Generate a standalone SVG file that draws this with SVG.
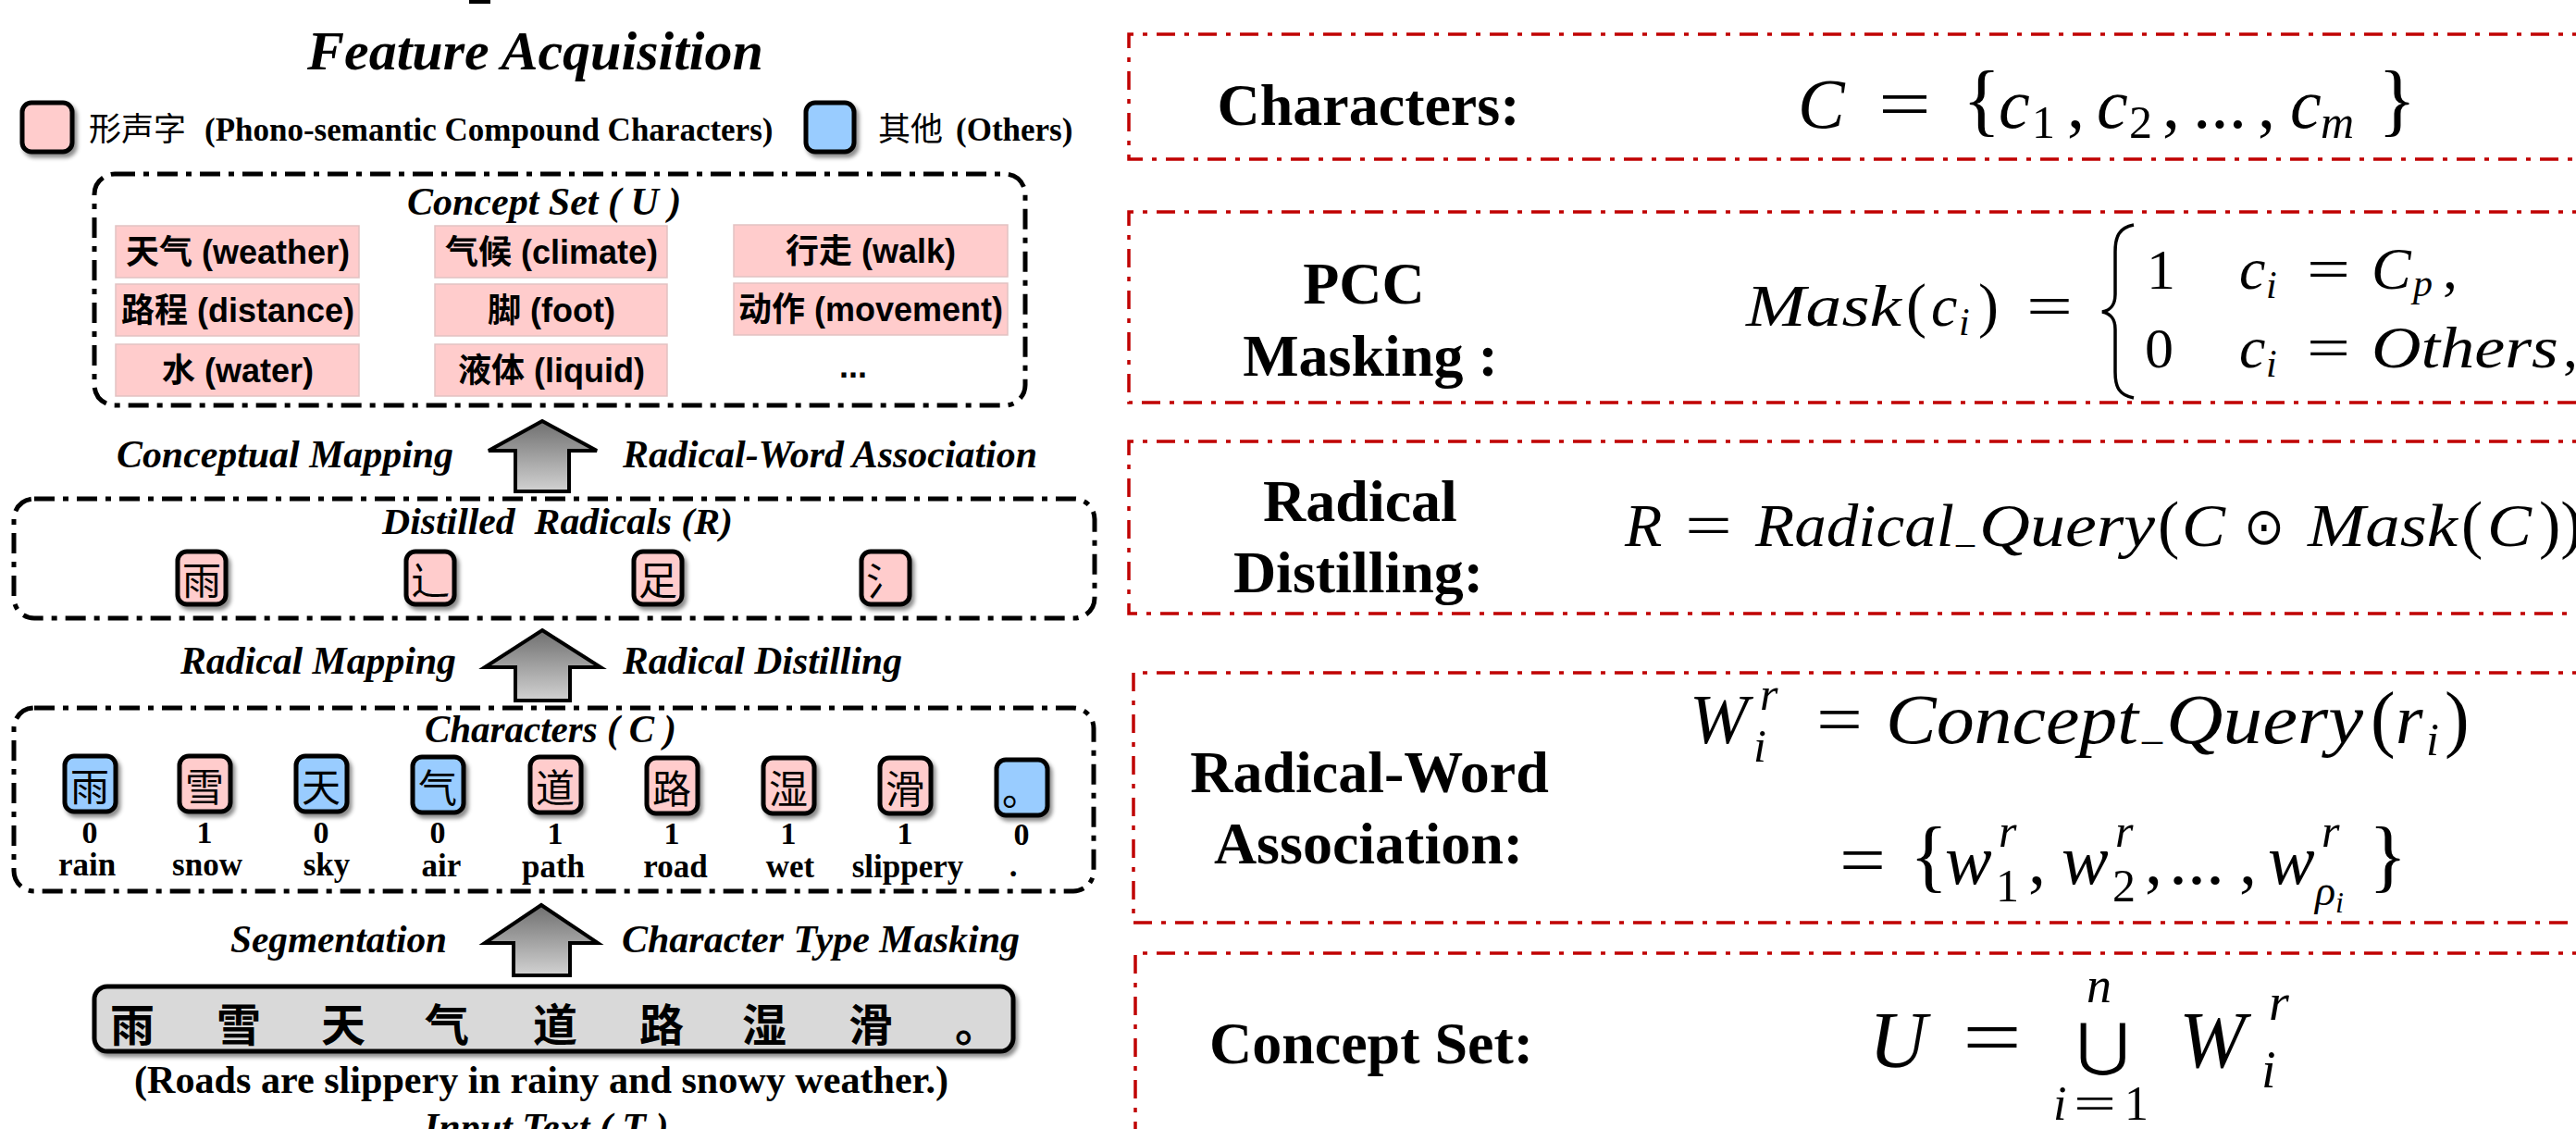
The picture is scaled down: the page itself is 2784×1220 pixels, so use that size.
<svg xmlns="http://www.w3.org/2000/svg" width="2784" height="1220" viewBox="0 0 2784 1220">
<defs>
<style>
.tbi{font-family:"Liberation Serif","Noto Sans CJK SC",serif;font-weight:bold;font-style:italic;fill:#000}
.tb{font-family:"Liberation Serif","Noto Sans CJK SC",serif;font-weight:bold;fill:#000}
.cjk{font-family:"Noto Sans CJK SC",sans-serif;font-weight:normal;fill:#000}
.sans{font-family:"Liberation Sans","Noto Sans CJK SC",sans-serif;font-weight:bold;fill:#000;text-anchor:middle}
.m{font-family:"Liberation Serif",serif;font-style:italic;fill:#000}
.mu{font-family:"Liberation Serif",serif;fill:#000}
.sym{font-family:"DejaVu Sans",sans-serif;fill:#000}
.dash{fill:none;stroke:#000;stroke-width:5;stroke-dasharray:22 9 6 9}
.red{fill:none;stroke:#C00000;stroke-width:3.5;stroke-dasharray:20 10 5 10}
.pk{fill:#FFCCCC;stroke:#000;stroke-width:5}
.bl{fill:#99CCFF;stroke:#000;stroke-width:5}
.item{fill:#FFCCCC;stroke:#E2C2C2;stroke-width:1.5}
.arrow{fill:url(#ag);stroke:#000;stroke-width:4;stroke-linejoin:miter}
.ch{font-family:"Noto Sans CJK SC",sans-serif;font-size:42px;text-anchor:middle;dominant-baseline:central;fill:#000}
.num{font-family:"Liberation Serif",serif;font-weight:bold;font-size:34px;text-anchor:middle}
.word{font-family:"Liberation Serif",serif;font-weight:bold;font-size:35px;text-anchor:middle}
.rl{font-family:"Liberation Serif",serif;font-weight:bold;font-size:64px;text-anchor:middle}
</style>
<linearGradient id="ag" x1="0" y1="0" x2="0" y2="1">
<stop offset="0" stop-color="#6f6f6f"/>
<stop offset="1" stop-color="#d2d2d2"/>
</linearGradient>
<filter id="sh" x="-20%" y="-20%" width="150%" height="150%">
<feDropShadow dx="3" dy="4" stdDeviation="2" flood-color="#000" flood-opacity="0.45"/>
</filter>
</defs>
<rect width="2784" height="1220" fill="#fff"/>

<!-- cut-off fragment at top -->
<rect x="507" y="0" width="23" height="4" fill="#000"/>

<!-- LEFT PANEL -->
<text class="tbi" x="332" y="75" font-size="60">Feature Acquisition</text>

<g id="legend">
<rect class="pk" x="24" y="111" width="54" height="53" rx="10" filter="url(#sh)"/>
<text class="tb" x="96" y="152" font-size="35"><tspan class="cjk">形声字</tspan><tspan x="221">(Phono-semantic Compound Characters)</tspan></text>
<rect class="bl" x="871" y="111" width="52" height="53" rx="10" filter="url(#sh)"/>
<text class="tb" x="949" y="152" font-size="35"><tspan class="cjk">其他</tspan><tspan x="1033">(Others)</tspan></text>
</g>

<g id="concept-set">
<rect class="dash" x="102" y="188" width="1006" height="250" rx="22"/>
<text class="tbi" x="440" y="232" font-size="42" xml:space="preserve">Concept Set ( U )</text>
<rect class="item" x="125" y="244" width="263" height="56"/>
<rect class="item" x="470" y="244" width="251" height="56"/>
<rect class="item" x="793" y="243" width="296" height="56"/>
<rect class="item" x="125" y="307" width="263" height="56"/>
<rect class="item" x="470" y="307" width="251" height="56"/>
<rect class="item" x="793" y="306" width="296" height="56"/>
<rect class="item" x="125" y="372" width="263" height="56"/>
<rect class="item" x="470" y="372" width="251" height="56"/>
<text class="sans" font-size="36" x="257" y="285">天气 (weather)</text>
<text class="sans" font-size="36" x="596" y="285">气候 (climate)</text>
<text class="sans" font-size="36" x="941" y="284">行走 (walk)</text>
<text class="sans" font-size="36" x="257" y="348">路程 (distance)</text>
<text class="sans" font-size="36" x="596" y="348">脚 (foot)</text>
<text class="sans" font-size="36" x="941" y="347">动作 (movement)</text>
<text class="sans" font-size="36" x="257" y="413">水 (water)</text>
<text class="sans" font-size="36" x="596" y="413">液体 (liquid)</text>
<text class="sans" font-size="36" x="922" y="408">...</text>
</g>

<g id="connectors">
<path class="arrow" d="M586,455 L645,487 L615,487 L615,531 L557,531 L557,487 L528,487 Z"/>
<path class="arrow" d="M586,681 L649,721 L616,721 L616,757 L557,757 L557,721 L524,721 Z"/>
<path class="arrow" d="M585,978 L646,1019 L616,1019 L616,1054 L555,1054 L555,1019 L524,1019 Z"/>
<text class="tbi" x="126" y="505" font-size="42" textLength="364" lengthAdjust="spacingAndGlyphs">Conceptual Mapping</text>
<text class="tbi" x="673" y="505" font-size="42" textLength="448" lengthAdjust="spacingAndGlyphs">Radical-Word Association</text>
<text class="tbi" x="195" y="728" font-size="42" textLength="298" lengthAdjust="spacingAndGlyphs">Radical Mapping</text>
<text class="tbi" x="673" y="728" font-size="42" textLength="302" lengthAdjust="spacingAndGlyphs">Radical Distilling</text>
<text class="tbi" x="249" y="1029" font-size="42" textLength="234" lengthAdjust="spacingAndGlyphs">Segmentation</text>
<text class="tbi" x="672" y="1029" font-size="42" textLength="430" lengthAdjust="spacingAndGlyphs">Character Type Masking</text>
</g>

<g id="radicals">
<rect class="dash" x="15" y="539" width="1168" height="129" rx="22"/>
<text class="tbi" x="413" y="577" font-size="40" textLength="379" lengthAdjust="spacingAndGlyphs" xml:space="preserve">Distilled  Radicals (R)</text>
<rect class="pk" x="192" y="596" width="52" height="57" rx="10" filter="url(#sh)"/>
<rect class="pk" x="439" y="596" width="52" height="57" rx="10" filter="url(#sh)"/>
<rect class="pk" x="685" y="596" width="52" height="57" rx="10" filter="url(#sh)"/>
<rect class="pk" x="931" y="596" width="52" height="57" rx="10" filter="url(#sh)"/>
<text class="ch" font-size="40" x="218" y="624">雨</text>
<text class="ch" font-size="40" x="465" y="624">辶</text>
<text class="ch" font-size="40" x="711" y="624">足</text>
<text class="ch" font-size="40" x="957" y="624">氵</text>
</g>

<g id="characters">
<rect class="dash" x="15" y="765" width="1167" height="198" rx="22"/>
<text class="tbi" x="459" y="802" font-size="42" textLength="272" lengthAdjust="spacingAndGlyphs" xml:space="preserve">Characters ( C )</text>
<rect class="bl" x="70" y="817" width="55" height="60" rx="10" filter="url(#sh)"/>
<rect class="pk" x="194" y="817" width="55" height="60" rx="10" filter="url(#sh)"/>
<rect class="bl" x="320" y="817" width="55" height="60" rx="10" filter="url(#sh)"/>
<rect class="bl" x="446" y="818" width="55" height="60" rx="10" filter="url(#sh)"/>
<rect class="pk" x="573" y="818" width="55" height="60" rx="10" filter="url(#sh)"/>
<rect class="pk" x="699" y="819" width="55" height="60" rx="10" filter="url(#sh)"/>
<rect class="pk" x="825" y="819" width="55" height="60" rx="10" filter="url(#sh)"/>
<rect class="pk" x="951" y="819" width="55" height="60" rx="10" filter="url(#sh)"/>
<rect class="bl" x="1077" y="821" width="55" height="60" rx="10" filter="url(#sh)"/>
<text class="ch" x="97" y="847">雨</text>
<text class="ch" x="221" y="847">雪</text>
<text class="ch" x="347" y="847">天</text>
<text class="ch" x="473" y="848">气</text>
<text class="ch" x="600" y="848">道</text>
<text class="ch" x="726" y="849">路</text>
<text class="ch" x="852" y="849">湿</text>
<text class="ch" x="978" y="849">滑</text>
<text class="ch" x="1104" y="851">。</text>
<text class="num" x="97" y="911">0</text>
<text class="num" x="221" y="911">1</text>
<text class="num" x="347" y="911">0</text>
<text class="num" x="473" y="911">0</text>
<text class="num" x="600" y="912">1</text>
<text class="num" x="726" y="912">1</text>
<text class="num" x="852" y="912">1</text>
<text class="num" x="978" y="912">1</text>
<text class="num" x="1104" y="913">0</text>
<text class="word" x="94" y="946">rain</text>
<text class="word" x="224" y="946">snow</text>
<text class="word" x="353" y="946">sky</text>
<text class="word" x="477" y="947">air</text>
<text class="word" x="598" y="948">path</text>
<text class="word" x="730" y="948">road</text>
<text class="word" x="854" y="948">wet</text>
<text class="word" x="981" y="948">slippery</text>
<text class="word" x="1095" y="947">.</text>
</g>

<g id="input-text">
<rect x="102" y="1066" width="993" height="70" rx="14" fill="#D9D9D9" stroke="#000" stroke-width="5" filter="url(#sh)"/>
<g font-family="Noto Sans CJK SC, sans-serif" font-weight="bold" font-size="48" text-anchor="middle" dominant-baseline="central">
<text x="143" y="1104">雨</text>
<text x="258" y="1104">雪</text>
<text x="371" y="1104">天</text>
<text x="483" y="1104">气</text>
<text x="600" y="1104">道</text>
<text x="715" y="1104">路</text>
<text x="826" y="1104">湿</text>
<text x="941" y="1104">滑</text>
<text x="1056" y="1104">。</text>
</g>
<text class="tb" x="145" y="1181" font-size="42" textLength="880" lengthAdjust="spacingAndGlyphs">(Roads are slippery in rainy and snowy weather.)</text>
<text class="tbi" x="458" y="1232" font-size="42" xml:space="preserve">Input Text ( T )</text>
</g>

<!-- RIGHT PANEL -->
<g id="step-characters">
<path class="red" d="M2800,37 H1220 V172 H2800"/>
<text class="rl" x="1479" y="135">Characters:</text>
<text class="m" x="1943" y="138" font-size="76">C</text>
<text class="mu" x="2030" y="138" font-size="76" textLength="57" lengthAdjust="spacingAndGlyphs">=</text>
<text class="mu" x="2121" y="136" font-size="86">{</text>
<text class="m" x="2160" y="138" font-size="76">c</text>
<text class="mu" x="2196" y="149" font-size="50">1</text>
<text class="mu" x="2234" y="138" font-size="76">,</text>
<text class="m" x="2266" y="138" font-size="76">c</text>
<text class="mu" x="2301" y="149" font-size="50">2</text>
<text class="mu" x="2337" y="138" font-size="76">,</text>
<text class="mu" x="2370" y="138" font-size="76" textLength="58" lengthAdjust="spacingAndGlyphs">...</text>
<text class="mu" x="2440" y="138" font-size="76">,</text>
<text class="m" x="2475" y="138" font-size="76">c</text>
<text class="m" x="2508" y="149" font-size="50">m</text>
<text class="mu" x="2570" y="136" font-size="86">}</text>
</g>

<g id="step-masking">
<path class="red" d="M2800,229 H1220 V435 H2800"/>
<text class="rl" x="1474" y="328">PCC</text>
<text class="rl" x="1481" y="406">Masking :</text>
<text class="m" x="1887" y="352" font-size="64" textLength="168" lengthAdjust="spacingAndGlyphs">Mask</text>
<text class="mu" x="2060" y="352" font-size="66">(</text>
<text class="m" x="2087" y="352" font-size="64">c</text>
<text class="m" x="2117" y="362" font-size="42">i</text>
<text class="mu" x="2138" y="352" font-size="66">)</text>
<text class="mu" x="2190" y="352" font-size="64" textLength="50" lengthAdjust="spacingAndGlyphs">=</text>
<path d="M2306,243 C2290,246 2286,256 2286,272 L2286,318 C2286,330 2281,335 2272,337 C2281,339 2286,344 2286,356 L2286,402 C2286,418 2290,427 2306,430" fill="none" stroke="#000" stroke-width="3.5"/>
<text class="mu" x="2320" y="312" font-size="62">1</text>
<text class="m" x="2420" y="312" font-size="64">c</text>
<text class="m" x="2449" y="322" font-size="42">i</text>
<text class="mu" x="2493" y="312" font-size="64" textLength="47" lengthAdjust="spacingAndGlyphs">=</text>
<text class="m" x="2563" y="312" font-size="64">C</text>
<text class="m" x="2608" y="320" font-size="42">p</text>
<text class="mu" x="2640" y="312" font-size="64">,</text>
<text class="mu" x="2318" y="397" font-size="62">0</text>
<text class="m" x="2420" y="397" font-size="64">c</text>
<text class="m" x="2449" y="407" font-size="42">i</text>
<text class="mu" x="2493" y="397" font-size="64" textLength="47" lengthAdjust="spacingAndGlyphs">=</text>
<text class="m" x="2563" y="397" font-size="64" textLength="202" lengthAdjust="spacingAndGlyphs">Others</text>
<text class="mu" x="2770" y="397" font-size="64">,</text>
</g>

<g id="step-distilling">
<path class="red" d="M2800,477 H1220 V663 H2800"/>
<text class="rl" x="1470" y="563">Radical</text>
<text class="rl" x="1468" y="640">Distilling:</text>
<text class="m" x="1756" y="590" font-size="66">R</text>
<text class="mu" x="1821" y="590" font-size="66" textLength="51" lengthAdjust="spacingAndGlyphs">=</text>
<text class="m" x="1897" y="590" font-size="66" textLength="215" lengthAdjust="spacingAndGlyphs">Radical</text>
<text class="mu" x="2114" y="586" font-size="40">_</text>
<text class="m" x="2139" y="590" font-size="66" textLength="190" lengthAdjust="spacingAndGlyphs">Query</text>
<text class="mu" x="2332" y="590" font-size="70">(</text>
<text class="m" x="2358" y="590" font-size="66" textLength="47" lengthAdjust="spacingAndGlyphs">C</text>
<text class="sym" x="2425" y="588" font-size="56" textLength="44" lengthAdjust="spacingAndGlyphs">⊙</text>
<text class="m" x="2494" y="590" font-size="66" textLength="162" lengthAdjust="spacingAndGlyphs">Mask</text>
<text class="mu" x="2660" y="590" font-size="70">(</text>
<text class="m" x="2688" y="590" font-size="66" textLength="48" lengthAdjust="spacingAndGlyphs">C</text>
<text class="mu" x="2744" y="590" font-size="70">))</text>
</g>

<g id="step-association">
<path class="red" d="M2800,727 H1225 V997 H2800"/>
<text class="rl" x="1480" y="856">Radical-Word</text>
<text class="rl" x="1479" y="933">Association:</text>
<text class="m" x="1826" y="803" font-size="76">W</text>
<text class="m" x="1902" y="767" font-size="50">r</text>
<text class="m" x="1895" y="823" font-size="50">i</text>
<text class="mu" x="1963" y="803" font-size="76" textLength="50" lengthAdjust="spacingAndGlyphs">=</text>
<text class="m" x="2038" y="803" font-size="76" textLength="273" lengthAdjust="spacingAndGlyphs">Concept</text>
<text class="mu" x="2315" y="798" font-size="44">_</text>
<text class="m" x="2341" y="803" font-size="76" textLength="213" lengthAdjust="spacingAndGlyphs">Query</text>
<text class="mu" x="2562" y="803" font-size="80">(</text>
<text class="m" x="2589" y="803" font-size="76">r</text>
<text class="m" x="2622" y="816" font-size="50">i</text>
<text class="mu" x="2642" y="803" font-size="80">)</text>
<text class="mu" x="1988" y="955" font-size="76" textLength="50" lengthAdjust="spacingAndGlyphs">=</text>
<text class="mu" x="2064" y="953" font-size="86">{</text>
<text class="m" x="2102" y="955" font-size="76">w</text>
<text class="m" x="2160" y="915" font-size="50">r</text>
<text class="mu" x="2157" y="974" font-size="50">1</text>
<text class="mu" x="2192" y="955" font-size="76">,</text>
<text class="m" x="2228" y="955" font-size="76">w</text>
<text class="m" x="2286" y="915" font-size="50">r</text>
<text class="mu" x="2283" y="974" font-size="50">2</text>
<text class="mu" x="2318" y="955" font-size="76">,</text>
<text class="mu" x="2344" y="955" font-size="76" textLength="60" lengthAdjust="spacingAndGlyphs">...</text>
<text class="mu" x="2420" y="955" font-size="76">,</text>
<text class="m" x="2451" y="955" font-size="76">w</text>
<text class="m" x="2509" y="915" font-size="50">r</text>
<text class="m" x="2502" y="978" font-size="46">ρ<tspan font-size="32" dy="8">i</tspan></text>
<text class="mu" x="2560" y="953" font-size="86">}</text>
</g>

<g id="step-concept-set">
<path class="red" d="M2800,1030 H1227 V1240"/>
<text class="rl" x="1482" y="1149">Concept Set:</text>
<text class="m" x="2020" y="1153" font-size="86">U</text>
<text class="mu" x="2121" y="1150" font-size="86" textLength="64" lengthAdjust="spacingAndGlyphs">=</text>
<text class="sym" x="2244" y="1150" font-size="62" textLength="58" lengthAdjust="spacingAndGlyphs">⋃</text>
<text class="m" x="2255" y="1083" font-size="54">n</text>
<text class="m" x="2219" y="1210" font-size="52">i</text>
<text class="mu" x="2241" y="1210" font-size="52" textLength="46" lengthAdjust="spacingAndGlyphs">=</text>
<text class="mu" x="2296" y="1210" font-size="52">1</text>
<text class="m" x="2355" y="1153" font-size="86">W</text>
<text class="m" x="2452" y="1102" font-size="56">r</text>
<text class="m" x="2444" y="1175" font-size="56">i</text>
</g>
</svg>
